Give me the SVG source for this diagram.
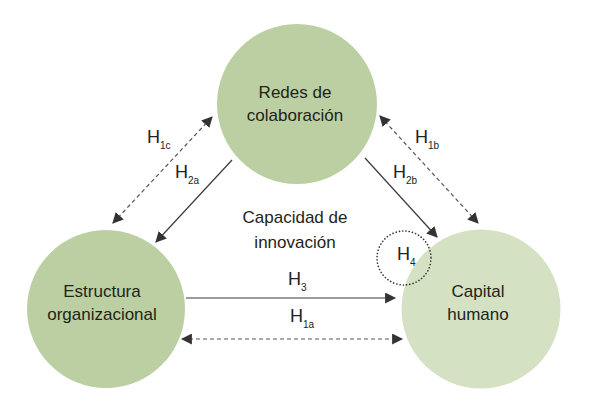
<svg xmlns="http://www.w3.org/2000/svg" width="589" height="407" viewBox="0 0 589 407">
<defs>
<style>
.node-a{fill:#bccfa2}
.node-b{fill:#d5e1c3}
.lbl{font-family:"Liberation Sans",Arial,sans-serif;font-size:17px;fill:#1e2418;text-anchor:middle}
.h{font-family:"Liberation Sans",Arial,sans-serif;font-size:18px;fill:#222}
.sub{font-size:10px}
.solid{stroke:#3a3a3a;stroke-width:1.2;fill:none}
.dash{stroke:#555;stroke-width:1.2;fill:none;stroke-dasharray:4 3}
.dot{stroke:#333;stroke-width:1.6;fill:none;stroke-dasharray:0.1 3.2;stroke-linecap:round}
</style>
<marker id="ah" viewBox="0 0 10 10" refX="9" refY="5" markerWidth="11" markerHeight="11" markerUnits="userSpaceOnUse" orient="auto-start-reverse">
<path d="M0,0 L10,5 L0,10 Z" fill="#333"/>
</marker>
</defs>
<rect width="589" height="407" fill="#fff"/>
<g id="redes">
<circle class="node-a" cx="297" cy="104" r="80"/>
<text class="lbl" x="295" y="98">Redes de</text>
<text class="lbl" x="295" y="121">colaboración</text>
</g>
<g id="estructura">
<circle class="node-a" cx="106" cy="309" r="79"/>
<text class="lbl" x="102" y="297">Estructura</text>
<text class="lbl" x="102" y="320">organizacional</text>
</g>
<g id="capital">
<circle class="node-b" cx="481" cy="309" r="79.5"/>
<text class="lbl" x="478" y="297">Capital</text>
<text class="lbl" x="478" y="320">humano</text>
</g>
<g id="capacidad">
<text class="lbl" x="295" y="223">Capacidad de</text>
<text class="lbl" x="295" y="248">innovación</text>
</g>
<g id="connectors">
<line class="dash" x1="113" y1="223" x2="212" y2="117" marker-start="url(#ah)" marker-end="url(#ah)"/>
<line class="solid" x1="232" y1="160" x2="156" y2="242" marker-end="url(#ah)"/>
<line class="dash" x1="380" y1="116" x2="478" y2="223" marker-start="url(#ah)" marker-end="url(#ah)"/>
<line class="solid" x1="365" y1="158" x2="437" y2="237" marker-end="url(#ah)"/>
<line class="solid" x1="186" y1="298" x2="395" y2="298" marker-end="url(#ah)"/>
<line class="dash" x1="182" y1="339" x2="402" y2="339" marker-start="url(#ah)" marker-end="url(#ah)"/>
<circle class="dot" cx="404" cy="258" r="27"/>
</g>
<g id="labels">
<text class="h" x="147" y="143">H<tspan class="sub" dy="6">1c</tspan></text>
<text class="h" x="175" y="178">H<tspan class="sub" dy="6">2a</tspan></text>
<text class="h" x="415" y="143">H<tspan class="sub" dy="6">1b</tspan></text>
<text class="h" x="393" y="178">H<tspan class="sub" dy="6">2b</tspan></text>
<text class="h" x="288" y="285">H<tspan class="sub" dy="6">3</tspan></text>
<text class="h" x="290" y="322">H<tspan class="sub" dy="6">1a</tspan></text>
<text class="h" x="397" y="260">H<tspan class="sub" dy="6">4</tspan></text>
</g>
</svg>
